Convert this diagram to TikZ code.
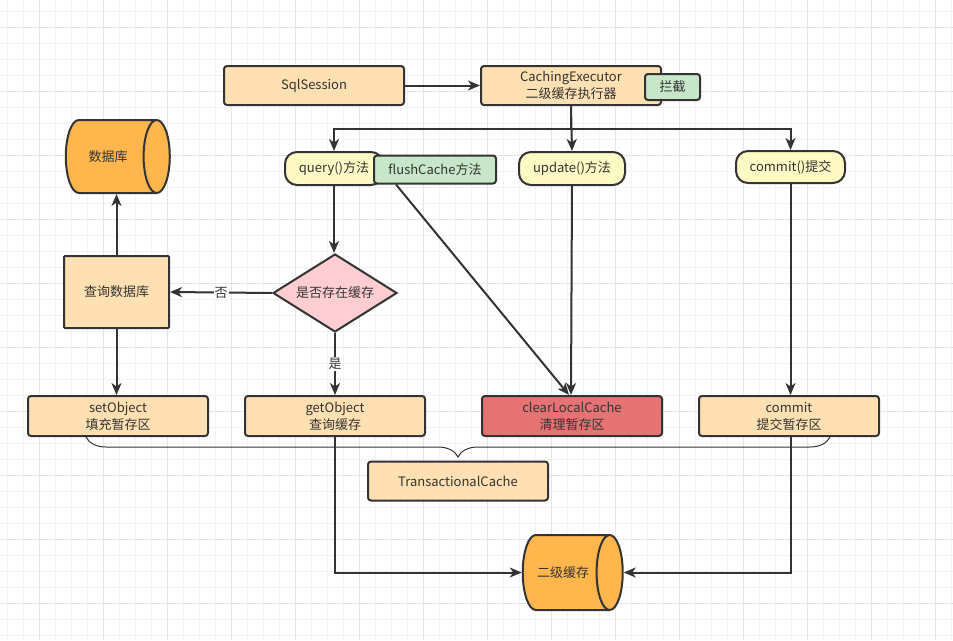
\documentclass[tikz,border=0pt]{standalone}
\usepackage{fontspec}
\setmainfont{Noto Sans CJK SC}
\usepackage{xcolor}
\usetikzlibrary{positioning}
\usetikzlibrary{arrows.meta,shapes.geometric,decorations.pathreplacing}

\definecolor{peach}{RGB}{255,224,178}
\definecolor{lemon}{RGB}{255,249,196}
\definecolor{mint}{RGB}{200,230,201}
\definecolor{amber}{RGB}{255,183,77}
\definecolor{rosy}{RGB}{255,205,210}
\definecolor{salmon}{RGB}{229,115,115}
\definecolor{ink}{RGB}{51,51,51}
\definecolor{gridlo}{RGB}{243,243,243}
\definecolor{gridhi}{RGB}{229,229,229}

\tikzset{
  box/.style={draw=ink, line width=2pt, rounded corners=3pt, fill=peach, minimum width=180pt,
    minimum height=39pt, align=center, text=ink, inner sep=2pt, font=\fontsize{13}{17}\selectfont},
  pill/.style={box, fill=lemon, rounded corners=12pt, minimum height=33pt},
  tag/.style={box, fill=mint, minimum height=28pt},
  store/.style={draw=ink, line width=2pt, cylinder, aspect=1.4, fill=amber, text=ink,
    minimum width=73pt, minimum height=104pt, font=\fontsize{13}{17}\selectfont},
  decision/.style={draw=ink, line width=2pt, diamond, aspect=1.6, fill=rosy, text=ink,
    minimum width=124pt, minimum height=78pt, inner sep=0pt, font=\fontsize{13}{17}\selectfont},
  flow/.style={draw=ink, line width=2pt, -{Stealth[length=12pt,width=10pt,inset=3.5pt]}},
  lbl/.style={fill=white, text=ink, inner sep=1pt, font=\fontsize{13}{17}\selectfont},
}

\begin{document}
\begin{tikzpicture}[x=1pt,y=-1pt,node distance=80pt,on grid]
  \useasboundingbox (0,0) rectangle (953,640);
  % background grid
  \foreach \x in {7,23,...,953} \draw[gridlo,line width=1pt] (\x,0) -- (\x,640);
  \foreach \y in {11.5,27.5,...,640} \draw[gridlo,line width=1pt] (0,\y) -- (953,\y);
  \foreach \x in {39,103,...,953} \draw[gridhi,line width=1pt] (\x,0) -- (\x,640);
  \foreach \y in {27.5,91.5,...,640} \draw[gridhi,line width=1pt] (0,\y) -- (953,\y);

  \node[box] (sql) at (314,85.5) {SqlSession};
  \node[box] (exec) [right=257pt of sql] {CachingExecutor\\二级缓存执行器};
  \node[tag, minimum width=55pt, minimum height=26pt] (hook) at (672.5,87) {拦截};

  \node[pill, minimum width=98pt] (query) at (334,168.5) {query()方法};
  \node[tag, minimum width=122pt] (flush) at (435,169.5) {flushCache方法};
  \node[pill, minimum width=106pt] (update) at (572,168.5) {update()方法};
  \node[pill, minimum width=109pt, minimum height=32pt] (commitm) at (790.5,167) {commit()提交};

  \node[store] (db) at (108,156.5) {数据库};
  \node[box, rounded corners=1pt, minimum width=105pt, minimum height=72pt] (querydb) at (116.5,292) {查询数据库};
  \node[decision] (decide) at (335,293) {是否存在缓存};

  \node[box, minimum height=40pt] (setobj) at (118,416) {setObject\\填充暂存区};
  \node[box, minimum height=40pt] (getobj) [right=217pt of setobj] {getObject\\查询缓存};
  \node[box, minimum height=40pt, fill=salmon] (clear) at (572,416) {clearLocalCache\\清理暂存区};
  \node[box, minimum height=40pt] (commit) at (789,416) {commit\\提交暂存区};

  \node[box] (tc) at (458,481) {TransactionalCache};
  \node[store, minimum width=75pt, minimum height=100pt] (cache2) at (563,572.5) {二级缓存};

  \coordinate (braceL) at (86,437);
  \coordinate (braceR) at (830,437);

  \draw[flow] (sql) -- (exec);
  \draw[flow] (exec.south) -- (update.north);
  \draw[flow] (exec.south) -- ++(0,23) -| (query.north);
  \draw[flow] (exec.south) -- ++(0,23) -| (commitm.north);

  \draw[flow] (query.south) -- (query.south |- decide.north);
  \draw[flow] (decide.west) -- node[lbl] {否} (querydb.east);
  \draw[flow] (decide.south) -- node[lbl] {是} (getobj.north -| decide.south);
  \draw[flow] (querydb.north) -- (querydb.north |- db.south);
  \draw[flow] (querydb.south) -- (setobj.north -| querydb.south);

  \draw[flow] ([xshift=23pt]flush.south west) -- ([xshift=-3pt]clear.north);
  \draw[flow] (update.south) -- ([xshift=-1pt]clear.north);
  \draw[flow] (commitm.south) -- (commitm.south |- commit.north);

  \draw[ink, line width=1pt, decorate, decoration={brace, amplitude=20pt}] (braceR) -- (braceL);

  \draw[flow] (getobj.south) |- (cache2.west);
  \draw[flow] (commit.south -| commitm.south) |- (cache2.east);
\end{tikzpicture}
\end{document}
